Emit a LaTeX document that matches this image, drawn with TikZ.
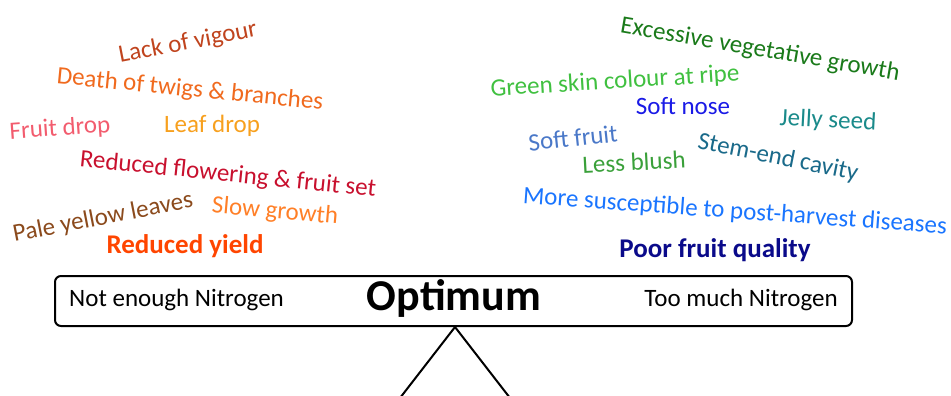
\documentclass[tikz,border=0pt]{standalone}
\usepackage{fontspec}
\setmainfont{Carlito}
\definecolor{cLack}{HTML}{C0441E}
\definecolor{cDeath}{HTML}{F06A1E}
\definecolor{cFruitdrop}{HTML}{F25C6E}
\definecolor{cLeaf}{HTML}{F7A01E}
\definecolor{cFlower}{HTML}{C8102E}
\definecolor{cPale}{HTML}{8B4A1C}
\definecolor{cSlow}{HTML}{FF7F27}
\definecolor{cYield}{HTML}{FF4500}
\definecolor{cExcess}{HTML}{1A7A1A}
\definecolor{cGreen}{HTML}{40C040}
\definecolor{cNose}{HTML}{1A1AE6}
\definecolor{cJelly}{HTML}{1A8A8A}
\definecolor{cSoft}{HTML}{4A78C8}
\definecolor{cBlush}{HTML}{3AA03A}
\definecolor{cStem}{HTML}{1A6A8A}
\definecolor{cMore}{HTML}{1A75FF}
\definecolor{cPoor}{HTML}{0A0A8A}
\tikzset{
  word/.style={inner sep=0pt, font=\fontsize{25}{25}\selectfont},
  bigword/.style={inner sep=0pt, font=\fontsize{27}{27}\selectfont\bfseries},
  boxtext/.style={inner sep=0pt, font=\fontsize{25}{25}\selectfont, text=black},
  beam/.style={draw=black, line width=2pt, rounded corners=6pt},
  leg/.style={draw=black, line width=2pt}
}
\begin{document}
\begin{tikzpicture}[x=1pt,y=-1pt]
\useasboundingbox (0,0) rectangle (951,396);
% left side
\node[word, text=cLack, rotate=11] (lack) at (188,43) {Lack of vigour};
\node[word, text=cDeath, rotate=-5.6] (death) at (190,90) {Death of twigs \& branches};
\node[word, text=cFruitdrop, rotate=4] (fdrop) at (60,129) {Fruit drop};
\node[word, text=cLeaf] (leaf) at (212,126) {Leaf drop};
\node[word, text=cFlower, rotate=-5.8] (flower) at (228,175) {Reduced flowering \& fruit set};
\node[word, text=cPale, rotate=11] (pale) at (103,218) {Pale yellow leaves};
\node[word, text=cSlow, rotate=-5] (slow) at (275,212) {Slow growth};
\node[bigword, text=cYield] (yield) at (185,246) {Reduced yield};
% right side
\node[word, text=cExcess, rotate=-9.7] (excess) at (760,50) {Excessive vegetative growth};
\node[word, text=cGreen, rotate=3.5] (greenskin) at (615,82) {Green skin colour at ripe};
\node[word, text=cNose] (nose) at (683,106) {Soft nose};
\node[word, text=cJelly, rotate=-3] (jelly) at (828,121) {Jelly seed};
\node[word, text=cSoft, rotate=6] (softfruit) at (573,138) {Soft fruit};
\node[word, text=cBlush, rotate=3] (blush) at (634,162) {Less blush};
\node[word, text=cStem, rotate=-11.3] (stem) at (778,158) {Stem-end cavity};
\node[word, text=cMore, rotate=-4.1] (more) at (735,212) {More susceptible to post-harvest diseases};
\node[bigword, text=cPoor] (poor) at (715,250) {Poor fruit quality};
% beam
\node[beam, minimum width=797pt, minimum height=50pt, inner sep=0pt] (box) at (453.5,301) {};
\node[boxtext, anchor=west] (notenough) at (69,300) {Not enough Nitrogen};
\node[inner sep=0pt, font=\fontsize{44}{44}\selectfont\bfseries] (opt) at (454,298) {Optimum};
\node[boxtext, anchor=east] (toomuch) at (838,300) {Too much Nitrogen};
% fulcrum
\coordinate (apex) at (455,327);
\coordinate (bl) at (400,398);
\coordinate (br) at (510,398);
\draw[leg, line join=round] (bl) -- (apex) -- (br);
\end{tikzpicture}
\end{document}
